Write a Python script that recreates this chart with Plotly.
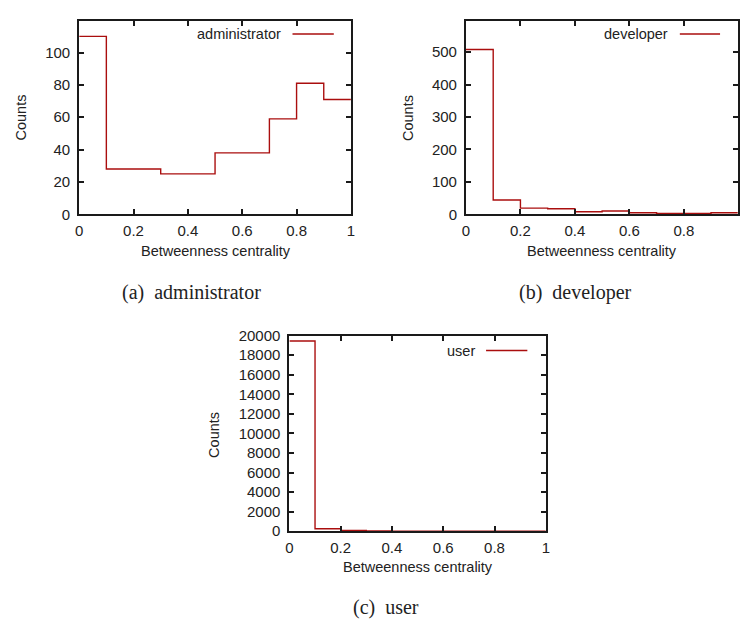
import plotly.graph_objects as go

# ---- data ----
bin_edges = [0.0, 0.1, 0.2, 0.3, 0.4, 0.5, 0.6, 0.7, 0.8, 0.9, 1.0]
admin_counts = [110, 28, 28, 25, 25, 38, 38, 59, 81, 71]
developer_counts = [508, 44, 19, 17, 8, 10, 5, 3, 3, 5]
user_counts = [19450, 250, 90, 20, 10, 6, 4, 3, 2, 2]
series_names = ["administrator", "developer", "user"]
captions = ["(a)  administrator", "(b)  developer", "(c)  user"]

W, H = 743, 630
LINE_COLOR = "#aa0e0e"
SANS = "Liberation Sans, Arial, sans-serif"
SERIF = "Liberation Serif, Times New Roman, serif"


def px_x(p):
    return p / W


def px_y(p):
    return 1 - p / H


fig = go.Figure()

for i, counts in enumerate([admin_counts, developer_counts, user_counts]):
    xa = "x" if i == 0 else f"x{i+1}"
    ya = "y" if i == 0 else f"y{i+1}"
    fig.add_trace(go.Scatter(
        x=bin_edges, y=counts + [counts[-1]],
        mode="lines", line=dict(color=LINE_COLOR, width=1.4, shape="hv"),
        name=series_names[i], showlegend=False, xaxis=xa, yaxis=ya,
        hoverinfo="x+y"))

# panel pixel boxes (left, right, top, bottom)
boxes = [(76, 350.7, 12.3, 211), (467, 741.7, 12.3, 211), (288.5, 547.7, 335.7, 536.7)]
x_ranges = [[0, 1], [0, 0.998], [0, 1]]
y_ranges = [[0, 119.5], [0, 596], [0, 20000]]
y_dticks = [20, 100, 2000]

axis_common = dict(showline=True, linewidth=2, linecolor="#1a1a1a", mirror="ticks",
                   ticks="inside", ticklen=5, tickwidth=1.5, tickcolor="#1a1a1a",
                   showgrid=False, zeroline=False, fixedrange=True,
                   tickfont=dict(family=SANS, size=15, color="#222"))

layout = dict(width=W, height=H, margin=dict(l=0, r=0, t=0, b=0),
              paper_bgcolor="white", plot_bgcolor="white", showlegend=False)

for i, (l, r, t, b) in enumerate(boxes):
    sx = "" if i == 0 else str(i + 1)
    xa = dict(axis_common, domain=[px_x(l), px_x(r)], range=x_ranges[i],
              dtick=0.2, tick0=0, anchor="y" + sx, ticklabelstandoff=2)
    ya = dict(axis_common, domain=[px_y(b), px_y(t)], range=y_ranges[i],
              dtick=y_dticks[i], tick0=0, anchor="x" + sx, tickformat="d",
              ticklabelstandoff=4)
    layout["xaxis" + sx] = xa
    layout["yaxis" + sx] = ya

fig.update_layout(**layout)

annotations = []
shapes = []
# axis titles (pixel centers)
counts_pos = [(17, 111.7), (407.7, 111.7), (212.3, 437.7)]
bc_pos = [(214, 248.3), (605, 248.3), (419, 573.3)]
cap_pos = [(190, 291.5), (577.5, 291.5), (386, 615)]
legend_pos = [  # text right end (domain frac), line start, line end, y (domain frac)
    (0.749, 0.785, 0.937, 0.9326),
    (0.751, 0.787, 0.935, 0.9326),
    (0.730, 0.767, 0.928, 0.924),
]
for i in range(3):
    sx = "" if i == 0 else str(i + 1)
    cx, cy = counts_pos[i]
    annotations.append(dict(text="Counts", x=px_x(cx), y=px_y(cy), xref="paper", yref="paper",
                            textangle=-90, showarrow=False, xanchor="center", yanchor="middle",
                            font=dict(family=SANS, size=14.5, color="#222")))
    bx, by = bc_pos[i]
    annotations.append(dict(text="Betweenness centrality", x=px_x(bx), y=px_y(by), xref="paper",
                            yref="paper", showarrow=False, xanchor="center", yanchor="middle",
                            font=dict(family=SANS, size=14.5, color="#222")))
    kx, ky = cap_pos[i]
    annotations.append(dict(text=captions[i], x=px_x(kx), y=px_y(ky), xref="paper", yref="paper",
                            showarrow=False, xanchor="center", yanchor="middle",
                            font=dict(family=SERIF, size=20, color="#222")))
    tx, l0, l1, ly = legend_pos[i]
    annotations.append(dict(text=series_names[i], x=tx, y=ly, xref=f"x{sx} domain",
                            yref=f"y{sx} domain", showarrow=False, xanchor="right",
                            yanchor="middle", font=dict(family=SANS, size=14.5, color="#222")))
    shapes.append(dict(type="line", x0=l0, x1=l1, y0=ly, y1=ly, xref=f"x{sx} domain",
                       yref=f"y{sx} domain", line=dict(color=LINE_COLOR, width=1.4)))

fig.update_layout(annotations=annotations, shapes=shapes)
fig.write_html("out.html", config={"displayModeBar": False},
               post_script="document.body.style.margin='0';document.body.style.overflow='hidden';")
